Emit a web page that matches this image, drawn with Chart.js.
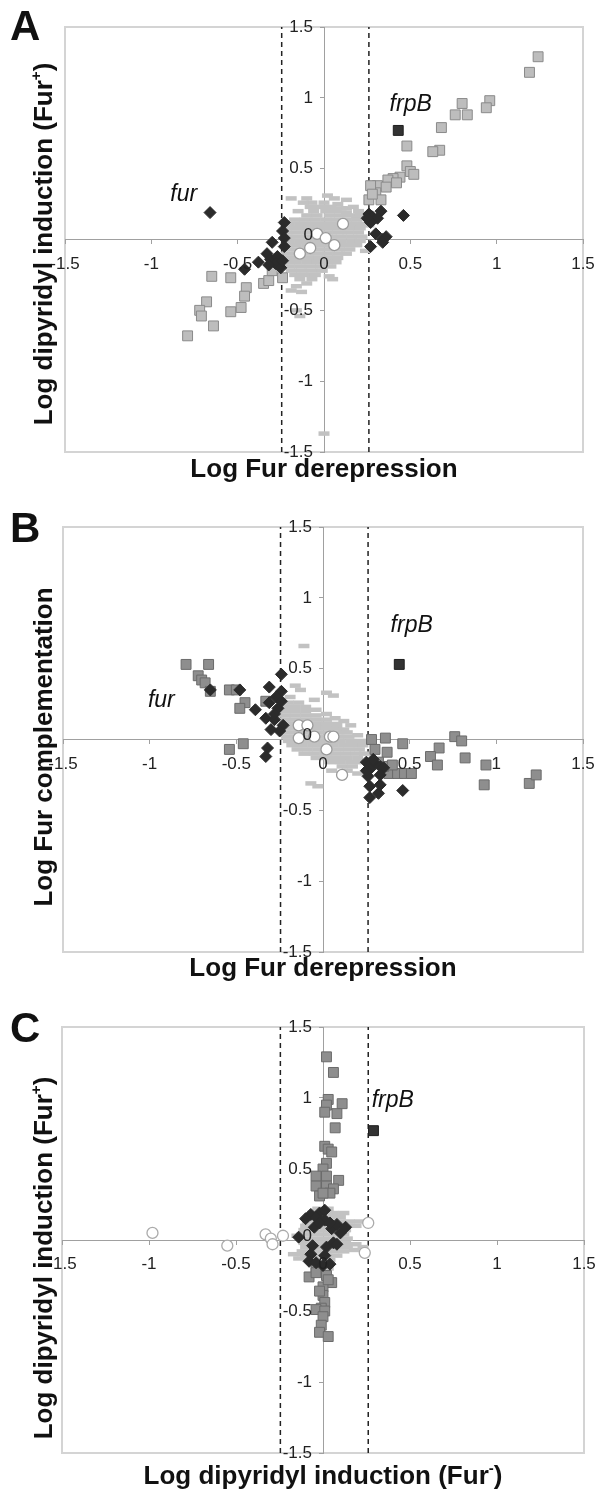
<!DOCTYPE html>
<html>
<head>
<meta charset="utf-8">
<script src="https://cdn.jsdelivr.net/npm/chart.js@4.4.0/dist/chart.umd.min.js"></script>
<style>
  html, body { margin: 0; padding: 0; background: #fff; }
  #page { position: relative; width: 598px; height: 1490px; overflow: hidden;
          font-family: "Liberation Sans", Arial, sans-serif; color: #111; }
  canvas { position: absolute; left: 0; }
  .letter { position: absolute; left: 10px; font-weight: bold; font-size: 42px; line-height: 1; }
  .xtitle, .ytitle { position: absolute; font-weight: bold; font-size: 26px; line-height: 1; white-space: nowrap; }
  .xtitle { transform: translate(-50%, -50%); }
  .ytitle { transform: translate(-50%, -50%) rotate(-90deg); }
  sup { font-size: 15px; vertical-align: 11px; line-height: 0; }
</style>
</head>
<body>
<div id="page">
  <canvas id="chartA" width="598" height="497" style="top:0px"></canvas>
  <canvas id="chartB" width="598" height="493" style="top:497px"></canvas>
  <canvas id="chartC" width="598" height="500" style="top:990px"></canvas>

  <div class="letter" style="top:5px">A</div>
  <div class="letter" style="top:507px">B</div>
  <div class="letter" style="top:1007px">C</div>

  <div class="ytitle" style="left:43px; top:244px">Log dipyridyl induction (Fur<sup>+</sup>)</div>
  <div class="xtitle" style="left:324px; top:468px">Log Fur derepression</div>
  <div class="ytitle" style="left:43px; top:747px">Log Fur complementation</div>
  <div class="xtitle" style="left:323px; top:967px">Log Fur derepression</div>
  <div class="ytitle" style="left:43px; top:1258px">Log dipyridyl induction (Fur<sup>+</sup>)</div>
  <div class="xtitle" style="left:323px; top:1475px">Log dipyridyl induction (Fur<sup>-</sup>)</div>
</div>

<script>
// shared axis settings
const axisTicks = [-1.5, -1, -0.5, 0, 0.5, 1, 1.5];
const cutLow = -0.245;
const cutHigh = 0.26;

// ---- panel A : Fur derepression vs dipyridyl induction (Fur+) ----
const cloudA = [
  [-0.19, 0.29], [-0.10, 0.29], [0.02, 0.31], [0.06, 0.29], [0.13, 0.22], [-0.07, 0.26], [0.13, 0.28], [0.19, 0.16],
  [-0.12, 0.26], [0.00, 0.26], [0.08, 0.25],
  [-0.08, 0.23], [-0.02, 0.23], [0.04, 0.23], [0.10, 0.22], [0.17, 0.23],
  [-0.15, 0.20], [-0.06, 0.20], [0.01, 0.20], [0.07, 0.20], [0.13, 0.19], [0.20, 0.20],
  [-0.10, 0.17], [-0.04, 0.17], [0.03, 0.17], [0.09, 0.17], [0.15, 0.17], [0.21, 0.18],
  [-0.17, 0.14], [-0.11, 0.14], [-0.05, 0.14], [0.01, 0.14], [0.07, 0.14], [0.13, 0.14], [0.19, 0.14], [0.24, 0.15],
  [-0.20, 0.11], [-0.14, 0.11], [-0.08, 0.11], [-0.02, 0.11], [0.04, 0.11], [0.10, 0.11], [0.16, 0.11], [0.22, 0.11],
  [-0.21, 0.08], [-0.15, 0.08], [-0.09, 0.08], [-0.03, 0.08], [0.03, 0.08], [0.09, 0.08], [0.15, 0.08], [0.21, 0.08],
  [-0.22, 0.05], [-0.16, 0.05], [-0.10, 0.05], [-0.04, 0.05], [0.02, 0.05], [0.08, 0.05], [0.14, 0.05], [0.20, 0.05],
  [-0.21, 0.02], [-0.15, 0.02], [-0.09, 0.02], [-0.03, 0.02], [0.04, 0.02], [0.10, 0.02], [0.16, 0.02], [0.22, 0.02],
  [-0.20, -0.01], [-0.14, -0.01], [-0.08, -0.01], [-0.02, -0.01], [0.04, -0.01], [0.10, -0.01], [0.16, -0.01], [0.21, -0.01],
  [-0.22, -0.04], [-0.16, -0.04], [-0.10, -0.04], [-0.04, -0.04], [0.02, -0.04], [0.08, -0.04], [0.14, -0.04], [0.19, -0.04],
  [-0.21, -0.07], [-0.15, -0.07], [-0.09, -0.07], [-0.03, -0.07], [0.03, -0.07], [0.09, -0.07], [0.15, -0.07],
  [-0.22, -0.10], [-0.16, -0.10], [-0.10, -0.10], [-0.04, -0.10], [0.02, -0.10], [0.08, -0.10], [0.13, -0.10],
  [-0.21, -0.13], [-0.15, -0.13], [-0.09, -0.13], [-0.03, -0.13], [0.03, -0.13], [0.08, -0.13],
  [-0.22, -0.16], [-0.16, -0.16], [-0.10, -0.16], [-0.04, -0.16], [0.02, -0.16], [0.07, -0.16],
  [-0.20, -0.19], [-0.14, -0.19], [-0.08, -0.19], [-0.02, -0.19], [0.04, -0.19],
  [-0.19, -0.22], [-0.13, -0.22], [-0.07, -0.22], [-0.01, -0.22],
  [-0.17, -0.25], [-0.11, -0.25], [-0.05, -0.25], [0.03, -0.26],
  [-0.14, -0.28], [-0.07, -0.28], [0.05, -0.28],
  [-0.10, -0.31], [-0.16, -0.33],
  [-0.13, -0.37], [-0.19, -0.36], [-0.14, -0.54], [-0.16, -0.50], [0.00, -1.37], [0.26, 0.10], [0.24, -0.08]
];
const squaresA = [
  [1.24, 1.29], [1.19, 1.18], [0.96, 0.98], [0.94, 0.93], [0.80, 0.96], [0.76, 0.88], [0.83, 0.88],
  [0.68, 0.79], [0.67, 0.63], [0.63, 0.62], [0.48, 0.66], [0.48, 0.52], [0.50, 0.48], [0.52, 0.46],
  [0.44, 0.44], [0.40, 0.43], [0.37, 0.42], [0.31, 0.38], [0.36, 0.37], [0.30, 0.33], [0.42, 0.40],
  [0.27, 0.38], [0.33, 0.28], [0.26, 0.28], [0.28, 0.32],
  [-0.65, -0.26], [-0.54, -0.27], [-0.45, -0.34], [-0.46, -0.40], [-0.48, -0.48], [-0.54, -0.51],
  [-0.68, -0.44], [-0.72, -0.50], [-0.71, -0.54], [-0.64, -0.61], [-0.79, -0.68], [-0.35, -0.31],
  [-0.32, -0.29], [-0.30, -0.22], [-0.24, -0.27]
];
const diamondsA = [
  [-0.66, 0.19], [-0.23, 0.12], [-0.24, 0.06], [-0.23, 0.01], [-0.23, -0.05], [-0.30, -0.02], [-0.38, -0.16],
  [-0.46, -0.21], [-0.33, -0.10], [-0.31, -0.14], [-0.27, -0.12], [-0.28, -0.17], [-0.25, -0.20], [-0.32, -0.18],
  [-0.24, -0.15],
  [0.26, 0.18], [0.28, 0.16], [0.33, 0.20], [0.31, 0.15], [0.27, 0.12], [0.46, 0.17], [0.30, 0.04],
  [0.34, 0.00], [0.36, 0.02], [0.34, -0.02], [0.27, -0.05], [0.25, 0.15]
];
const circlesA = [[-0.04, 0.04], [0.01, 0.01], [0.06, -0.04], [0.11, 0.11], [-0.08, -0.06], [-0.14, -0.10]];
const frpbA = [[0.43, 0.77]];
const notesA = [{ text: "frpB", x: 0.38, y: 0.905 }, { text: "fur", x: -0.89, y: 0.27 }];

// ---- panel B : Fur derepression vs Fur complementation ----
const cloudB = [
  [-0.11, 0.66], [-0.16, 0.38], [-0.13, 0.35], [0.02, 0.33], [0.06, 0.31], [-0.19, 0.30], [-0.05, 0.28], [0.12, 0.13], [0.16, 0.10],
  [-0.20, 0.26], [-0.14, 0.26],
  [-0.22, 0.23], [-0.16, 0.23], [-0.10, 0.23],
  [-0.22, 0.20], [-0.16, 0.20], [-0.10, 0.20], [-0.04, 0.21],
  [-0.22, 0.17], [-0.16, 0.17], [-0.10, 0.17], [-0.04, 0.17], [0.02, 0.18],
  [-0.22, 0.14], [-0.16, 0.14], [-0.10, 0.14], [-0.04, 0.14], [0.02, 0.14], [0.07, 0.15],
  [-0.22, 0.11], [-0.16, 0.11], [-0.10, 0.11], [-0.04, 0.11], [0.02, 0.11], [0.08, 0.11],
  [-0.22, 0.08], [-0.16, 0.08], [-0.10, 0.08], [-0.04, 0.08], [0.02, 0.08], [0.08, 0.08], [0.12, 0.07],
  [-0.22, 0.05], [-0.16, 0.05], [-0.10, 0.05], [-0.04, 0.05], [0.02, 0.05], [0.08, 0.05], [0.14, 0.05],
  [-0.21, 0.02], [-0.15, 0.02], [-0.09, 0.02], [-0.03, 0.02], [0.03, 0.02], [0.09, 0.02], [0.15, 0.02], [0.20, 0.03],
  [-0.20, -0.01], [-0.14, -0.01], [-0.08, -0.01], [-0.02, -0.01], [0.04, -0.01], [0.10, -0.01], [0.16, -0.01], [0.22, -0.01],
  [-0.18, -0.04], [-0.12, -0.04], [-0.06, -0.04], [0.00, -0.04], [0.06, -0.04], [0.12, -0.04], [0.18, -0.04], [0.23, -0.04],
  [-0.15, -0.07], [-0.09, -0.07], [-0.03, -0.07], [0.03, -0.07], [0.09, -0.07], [0.15, -0.07], [0.21, -0.07],
  [-0.11, -0.10], [-0.05, -0.10], [0.01, -0.10], [0.07, -0.10], [0.13, -0.10], [0.19, -0.10], [0.24, -0.10],
  [-0.04, -0.13], [0.02, -0.13], [0.08, -0.13], [0.14, -0.13], [0.20, -0.13],
  [0.04, -0.16], [0.10, -0.16], [0.16, -0.16], [0.22, -0.16],
  [0.11, -0.19], [0.17, -0.19], [0.05, -0.22],
  [-0.07, -0.31], [-0.03, -0.33], [0.20, -0.24], [0.14, -0.22]
];
const squaresB = [
  [-0.79, 0.53], [-0.66, 0.53], [-0.72, 0.45], [-0.70, 0.42], [-0.68, 0.40], [-0.65, 0.34], [-0.54, 0.35],
  [-0.50, 0.35], [-0.45, 0.26], [-0.48, 0.22], [-0.33, 0.27], [-0.46, -0.03], [-0.54, -0.07],
  [0.28, 0.00], [0.36, 0.01], [0.46, -0.03], [0.37, -0.09], [0.30, -0.07], [0.32, -0.16], [0.67, -0.06],
  [0.62, -0.12], [0.66, -0.18], [0.76, 0.02], [0.80, -0.01], [0.82, -0.13], [0.94, -0.18], [0.93, -0.32],
  [1.19, -0.31], [1.23, -0.25], [0.38, -0.24], [0.43, -0.24], [0.47, -0.24], [0.51, -0.24], [0.35, -0.19],
  [0.40, -0.18]
];
const diamondsB = [
  [-0.24, 0.46], [-0.31, 0.37], [-0.48, 0.35], [-0.65, 0.35], [-0.24, 0.34], [-0.27, 0.30], [-0.31, 0.26],
  [-0.26, 0.22], [-0.39, 0.21], [-0.33, 0.15], [-0.28, 0.14], [-0.23, 0.10], [-0.30, 0.07], [-0.25, 0.06],
  [-0.32, -0.06], [-0.33, -0.12], [-0.28, 0.18], [-0.24, 0.27],
  [0.25, -0.16], [0.27, -0.18], [0.30, -0.17], [0.33, -0.19], [0.35, -0.20], [0.27, -0.21], [0.26, -0.26],
  [0.33, -0.25], [0.27, -0.33], [0.33, -0.32], [0.32, -0.38], [0.27, -0.41], [0.46, -0.36], [0.25, -0.22],
  [0.29, -0.14]
];
const circlesB = [[-0.14, 0.10], [-0.09, 0.10], [-0.14, 0.01], [-0.05, 0.02], [0.04, 0.02], [0.06, 0.02], [0.02, -0.07], [0.11, -0.25]];
const frpbB = [[0.44, 0.53]];
const notesB = [{ text: "frpB", x: 0.39, y: 0.76 }, { text: "fur", x: -1.01, y: 0.23 }];

// ---- panel C : dipyridyl induction Fur- vs Fur+ ----
const cloudC = [
  [-0.03, 0.22], [0.03, 0.22],
  [-0.06, 0.19], [0.00, 0.19], [0.06, 0.19], [0.12, 0.19],
  [-0.08, 0.16], [-0.02, 0.16], [0.04, 0.16], [0.10, 0.16],
  [-0.09, 0.13], [-0.03, 0.13], [0.03, 0.13], [0.09, 0.13], [0.15, 0.13], [0.21, 0.13],
  [-0.10, 0.10], [-0.04, 0.10], [0.02, 0.10], [0.08, 0.10], [0.14, 0.10], [0.19, 0.10],
  [-0.11, 0.07], [-0.05, 0.07], [0.01, 0.07], [0.07, 0.07], [0.13, 0.07],
  [-0.15, 0.03], [-0.12, 0.04], [-0.06, 0.04], [0.00, 0.04], [0.06, 0.04], [0.12, 0.04],
  [-0.10, 0.01], [-0.04, 0.01], [0.02, 0.01], [0.08, 0.01], [0.14, 0.01],
  [-0.11, -0.02], [-0.05, -0.02], [0.01, -0.02], [0.07, -0.02], [0.13, -0.02], [0.19, -0.03], [0.23, -0.05],
  [-0.10, -0.05], [-0.04, -0.05], [0.02, -0.05], [0.08, -0.05], [0.14, -0.05], [0.18, -0.07],
  [-0.17, -0.10], [-0.12, -0.10], [-0.12, -0.08], [-0.06, -0.08], [0.00, -0.08], [0.06, -0.08], [0.12, -0.08],
  [-0.10, -0.11], [-0.04, -0.11], [0.02, -0.11], [0.08, -0.11],
  [-0.14, -0.13], [-0.08, -0.14], [-0.02, -0.14], [0.04, -0.14],
  [-0.05, -0.17], [0.01, -0.17],
  [-0.02, -0.20], [0.03, -0.20]
];
const squaresC = [
  [0.02, 1.29], [0.06, 1.18], [0.03, 0.99], [0.02, 0.95], [0.01, 0.90], [0.11, 0.96], [0.08, 0.89],
  [0.07, 0.79], [0.01, 0.66], [0.03, 0.64], [0.05, 0.62], [0.02, 0.54], [0.00, 0.50], [-0.04, 0.45],
  [0.02, 0.45], [0.09, 0.42], [-0.04, 0.38], [0.02, 0.38], [0.06, 0.36], [-0.02, 0.31], [0.04, 0.33],
  [0.00, 0.33],
  [-0.04, -0.20], [0.02, -0.25], [-0.08, -0.26], [-0.04, -0.23], [0.05, -0.30], [0.00, -0.33], [0.00, -0.39],
  [0.01, -0.44], [-0.01, -0.48], [-0.04, -0.49], [0.01, -0.50], [0.00, -0.54], [-0.01, -0.60], [-0.02, -0.65],
  [0.03, -0.68], [0.03, -0.28], [-0.02, -0.36]
];
const diamondsC = [
  [-0.07, 0.18], [-0.02, 0.19], [0.01, 0.21], [-0.10, 0.15], [0.01, 0.14], [-0.05, 0.09], [0.05, 0.08],
  [0.08, 0.11], [0.13, 0.09], [0.10, 0.05], [-0.14, 0.02], [0.06, -0.02], [0.02, -0.05], [0.08, -0.03],
  [-0.06, -0.04], [0.01, -0.11], [-0.07, -0.10], [-0.08, -0.15], [-0.04, -0.16], [0.04, -0.17], [0.00, -0.18],
  [-0.04, 0.16], [-0.02, 0.12], [0.04, 0.12]
];
const circlesC = [[-0.98, 0.05], [-0.55, -0.04], [-0.33, 0.04], [-0.30, 0.01], [-0.29, -0.03], [-0.23, 0.03], [0.26, 0.12], [0.24, -0.09]];
const frpbC = [[0.29, 0.77]];
const notesC = [{ text: "frpB", x: 0.28, y: 0.94 }];

const toPoints = (pairs) => pairs.map(([x, y]) => ({ x, y }));

// light grey frame around the plot area
const framePlugin = {
  id: "frame",
  beforeDraw(chart) {
    const { ctx, chartArea: a } = chart;
    ctx.save();
    ctx.strokeStyle = "#d4d4d4";
    ctx.lineWidth = 2;
    ctx.strokeRect(a.left, a.top, a.right - a.left, a.bottom - a.top);
    ctx.restore();
  },
};

// tick labels next to the crossing axes + gene labels
const labelPlugin = {
  id: "labels",
  afterDraw(chart) {
    const { ctx } = chart;
    const xs = chart.scales.x;
    const ys = chart.scales.y;
    const x0 = xs.getPixelForValue(0);
    const y0 = ys.getPixelForValue(0);
    ctx.save();
    ctx.fillStyle = "#222";
    ctx.font = '17px "Liberation Sans", Arial, sans-serif';
    ctx.textAlign = "center";
    ctx.textBaseline = "top";
    xs.ticks.forEach((t) => {
      ctx.fillText(String(t.value), xs.getPixelForValue(t.value), y0 + 16);
    });
    ctx.textAlign = "right";
    ctx.textBaseline = "middle";
    ys.ticks.forEach((t) => {
      const py = ys.getPixelForValue(t.value) - (t.value === 0 ? 4 : 0);
      ctx.fillText(String(t.value), x0 - 11, py);
    });
    ctx.font = 'italic 23px "Liberation Sans", Arial, sans-serif';
    ctx.textAlign = "left";
    ctx.textBaseline = "alphabetic";
    ctx.fillStyle = "#111";
    (chart.options.plugins.labels.notes || []).forEach((n) => {
      ctx.fillText(n.text, xs.getPixelForValue(n.x), ys.getPixelForValue(n.y));
    });
    ctx.restore();
  },
};

const axisOptions = (cross) => ({
  type: "linear",
  min: -1.5,
  max: 1.5,
  position: cross,
  afterBuildTicks: (scale) => {
    scale.ticks = axisTicks.map((v) => ({ value: v }));
  },
  ticks: { display: false },
  grid: { drawOnChartArea: false, tickLength: 4, color: "#a0a0a0" },
  border: { color: "#a0a0a0", width: 1 },
});

const cutLine = (xv) => ({
  data: toPoints([[xv, -1.5], [xv, 1.5]]),
  showLine: true,
  pointRadius: 0,
  borderColor: "#222",
  borderWidth: 1.5,
  borderDash: [5, 4],
});

function makePanel(id, pad, set) {
  new Chart(document.getElementById(id), {
    type: "scatter",
    data: {
      datasets: [
        { data: toPoints(set.frpb), pointStyle: "rect", pointRadius: 7, backgroundColor: "#333", borderColor: "#1e1e1e", borderWidth: 1 },
        { data: toPoints(set.circles), pointStyle: "circle", pointRadius: 5.5, backgroundColor: "#fff", borderColor: set.circleEdge, borderWidth: 1.3 },
        { data: toPoints(set.diamonds), pointStyle: "rectRot", pointRadius: 6, backgroundColor: "#2b2b2b", borderColor: "#2b2b2b", borderWidth: 1 },
        { data: toPoints(set.squares), pointStyle: "rect", pointRadius: 7, backgroundColor: set.squareFill, borderColor: set.squareEdge, borderWidth: 1 },
        { data: toPoints(set.cloud), pointStyle: "line", pointRadius: 5.5, borderColor: "#c2c2c2", borderWidth: 4.5 },
        cutLine(cutLow),
        cutLine(cutHigh),
      ],
    },
    options: {
      responsive: false,
      animation: false,
      events: [],
      layout: { padding: pad },
      plugins: { legend: { display: false }, tooltip: { enabled: false }, labels: { notes: set.notes } },
      scales: { x: axisOptions({ y: 0 }), y: axisOptions({ x: 0 }) },
    },
    plugins: [framePlugin, labelPlugin],
  });
}

makePanel("chartA", { left: 65, right: 15, top: 27, bottom: 45 }, {
  cloud: cloudA, squares: squaresA, diamonds: diamondsA, circles: circlesA, frpb: frpbA, notes: notesA,
  squareFill: "#bdbdbd", squareEdge: "#8a8a8a", circleEdge: "#9a9a9a",
});
makePanel("chartB", { left: 63, right: 15, top: 30, bottom: 38 }, {
  cloud: cloudB, squares: squaresB, diamonds: diamondsB, circles: circlesB, frpb: frpbB, notes: notesB,
  squareFill: "#8e8e8e", squareEdge: "#6b6b6b", circleEdge: "#9a9a9a",
});
makePanel("chartC", { left: 62, right: 14, top: 37, bottom: 37 }, {
  cloud: cloudC, squares: squaresC, diamonds: diamondsC, circles: circlesC, frpb: frpbC, notes: notesC,
  squareFill: "#8e8e8e", squareEdge: "#6b6b6b", circleEdge: "#ababab",
});
</script>
</body>
</html>
